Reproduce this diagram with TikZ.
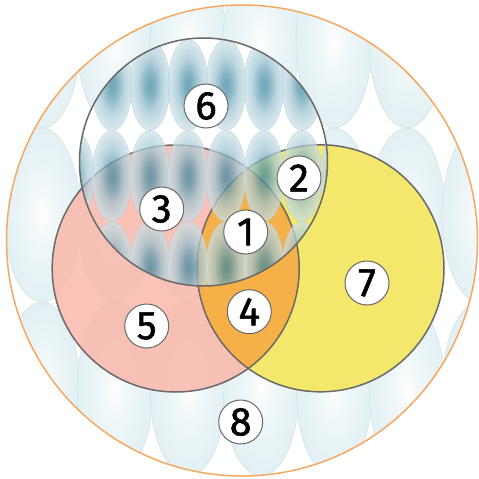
\documentclass[tikz,border=0pt]{standalone}
\usepackage{fontspec}
\setmainfont{Fira Sans}
\newfontfamily\digitfont[FakeBold=1.3]{Fira Sans}

\definecolor{outerrim}{RGB}{245,168,96}
\definecolor{ringgray}{RGB}{105,105,105}
\definecolor{pinkfill}{RGB}{250,184,170}
\definecolor{yellowfill}{RGB}{243,231,108}
\definecolor{orangefill}{RGB}{245,176,72}
\definecolor{dropdark}{RGB}{52,132,156}
\definecolor{droplight}{RGB}{205,226,233}
\definecolor{dropline}{RGB}{175,198,206}
\definecolor{paleblue}{RGB}{226,240,244}
\definecolor{paleline}{RGB}{205,222,228}
\colorlet{palemid}{white!45!paleblue}
\colorlet{dropmidA}{dropdark!80!droplight}
\colorlet{dropmidB}{dropdark!30!droplight}

\pgfdeclareradialshading{outerglow}{\pgfpointorigin}{color(0bp)=(white); color(9bp)=(palemid); color(25bp)=(paleblue); color(50bp)=(paleblue)}
\pgfdeclareradialshading{innerdot}{\pgfpointorigin}{color(0bp)=(dropdark); color(6bp)=(dropmidA); color(15bp)=(dropmidB); color(25bp)=(droplight); color(50bp)=(droplight)}

\begin{document}
\begin{tikzpicture}[x=1pt,y=-1pt,
  ring/.style={draw=ringgray,line width=1.5pt},
  bigdrop/.style={shade,shading=outerglow,draw=paleline,line width=0.4pt},
  smalldrop/.style={shade,shading=innerdot,opacity=0.72,draw=dropline,line width=0.4pt},
  numlbl/.style={circle,draw=ringgray,line width=1pt,fill=white,minimum size=44pt,
    inner sep=0pt,font=\digitfont\fontsize{40}{40}\selectfont}]
  \useasboundingbox (0,0) rectangle (479,479);
  \begin{scope}
    \clip (242,240.5) circle[radius=235.5];
    \foreach \y in {41,215,389}
      \foreach \x in {-31,42,115,188,261,334,407,480}
        \path[bigdrop] (\x,\y) ellipse[x radius=38,y radius=87];
  \end{scope}
  \fill[white] (203.5,162) circle[radius=124];
  \fill[pinkfill,fill opacity=0.85] (175.7,268.5) circle[radius=123.5];
  \fill[yellowfill] (320.5,268.3) circle[radius=123.5];
  \begin{scope}
    \clip (175.7,268.5) circle[radius=123.5];
    \fill[orangefill] (320.5,268.3) circle[radius=123.5];
  \end{scope}
  \draw[ring] (175.7,268.5) circle[radius=123.5];
  \draw[ring] (320.5,268.3) circle[radius=123.5];
  \begin{scope}
    \clip (203.5,162) circle[radius=124];
    \foreach \y in {85,176,267}
      \foreach \x in {74,112,...,340}
        \path[smalldrop] (\x,\y) ellipse[x radius=20,y radius=45.5];
  \end{scope}
  \draw[ring] (203.5,162) circle[radius=124];
  \draw[outerrim,line width=1.5pt] (242,240.5) circle[radius=235.5];
  \foreach \lab/\px/\py in {1/245.7/232,2/299/178,3/161.7/209,4/249.3/311.7,
                            5/146.7/326,6/206/106,7/367/283,8/240.7/422}
    \node[numlbl] (n\lab) at (\px,\py) {\lab};
\end{tikzpicture}
\end{document}
